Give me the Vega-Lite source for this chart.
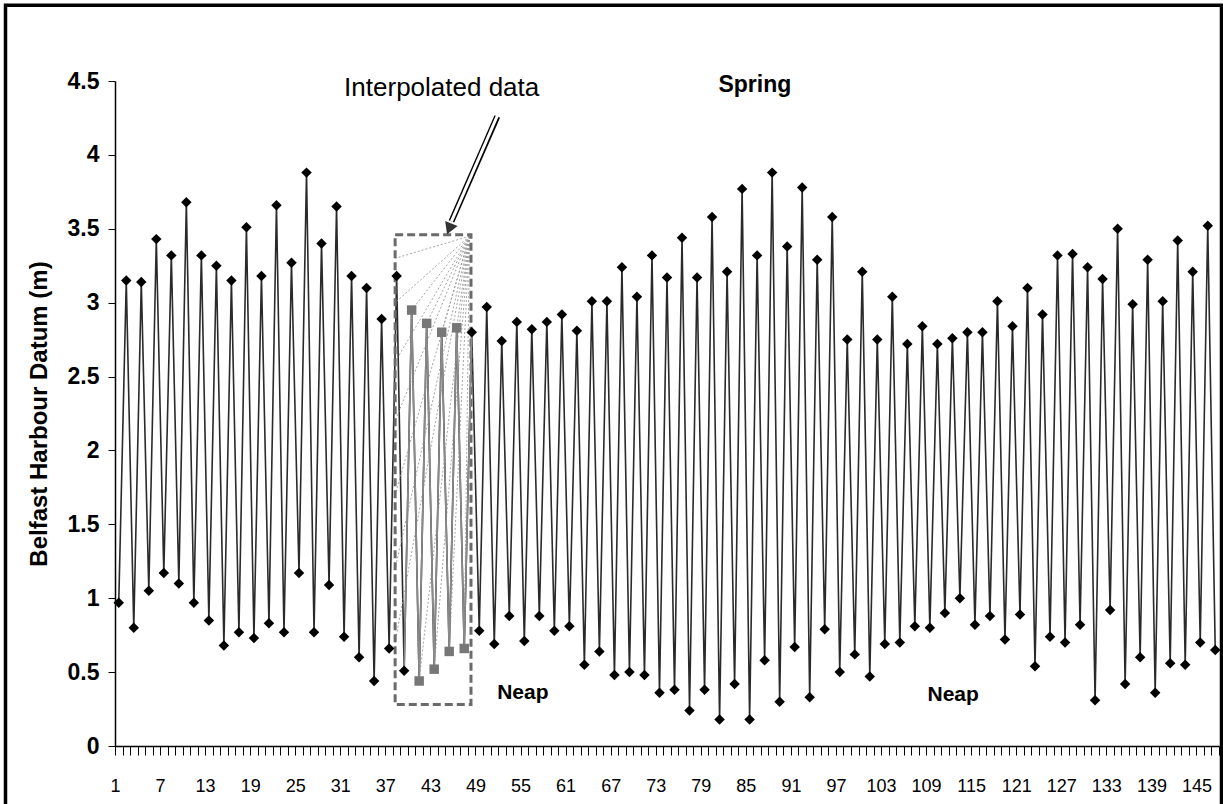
{
  "$schema": "https://vega.github.io/schema/vega-lite/v6.json",
  "width": 1104,
  "height": 665,
  "autosize": {"type": "none"},
  "padding": {"left": 115, "top": 81, "right": 4, "bottom": 58},
  "background": "white",
  "config": {
    "view": {"stroke": null},
    "font": "Liberation Sans",
    "axis": {"grid": false, "domainColor": "black", "tickColor": "black", "labelColor": "black", "titleColor": "black"}
  },
  "datasets": {
    "tide": [
      {"t":1,"h":0.97,"kind":"m"},{"t":2,"h":3.15,"kind":"m"},{"t":3,"h":0.80,"kind":"m"},{"t":4,"h":3.14,"kind":"m"},
      {"t":5,"h":1.05,"kind":"m"},{"t":6,"h":3.43,"kind":"m"},{"t":7,"h":1.17,"kind":"m"},{"t":8,"h":3.32,"kind":"m"},
      {"t":9,"h":1.10,"kind":"m"},{"t":10,"h":3.68,"kind":"m"},{"t":11,"h":0.97,"kind":"m"},{"t":12,"h":3.32,"kind":"m"},
      {"t":13,"h":0.85,"kind":"m"},{"t":14,"h":3.25,"kind":"m"},{"t":15,"h":0.68,"kind":"m"},{"t":16,"h":3.15,"kind":"m"},
      {"t":17,"h":0.77,"kind":"m"},{"t":18,"h":3.51,"kind":"m"},{"t":19,"h":0.73,"kind":"m"},{"t":20,"h":3.18,"kind":"m"},
      {"t":21,"h":0.83,"kind":"m"},{"t":22,"h":3.66,"kind":"m"},{"t":23,"h":0.77,"kind":"m"},{"t":24,"h":3.27,"kind":"m"},
      {"t":25,"h":1.17,"kind":"m"},{"t":26,"h":3.88,"kind":"m"},{"t":27,"h":0.77,"kind":"m"},{"t":28,"h":3.40,"kind":"m"},
      {"t":29,"h":1.09,"kind":"m"},{"t":30,"h":3.65,"kind":"m"},{"t":31,"h":0.74,"kind":"m"},{"t":32,"h":3.18,"kind":"m"},
      {"t":33,"h":0.60,"kind":"m"},{"t":34,"h":3.10,"kind":"m"},{"t":35,"h":0.44,"kind":"m"},{"t":36,"h":2.89,"kind":"m"},
      {"t":37,"h":0.66,"kind":"m"},{"t":38,"h":3.18,"kind":"m"},{"t":39,"h":0.51,"kind":"m"},{"t":40,"h":2.95,"kind":"i"},
      {"t":41,"h":0.44,"kind":"i"},{"t":42,"h":2.86,"kind":"i"},{"t":43,"h":0.52,"kind":"i"},{"t":44,"h":2.80,"kind":"i"},
      {"t":45,"h":0.64,"kind":"i"},{"t":46,"h":2.83,"kind":"i"},{"t":47,"h":0.66,"kind":"i"},{"t":48,"h":2.80,"kind":"m"},
      {"t":49,"h":0.78,"kind":"m"},{"t":50,"h":2.97,"kind":"m"},{"t":51,"h":0.69,"kind":"m"},{"t":52,"h":2.74,"kind":"m"},
      {"t":53,"h":0.88,"kind":"m"},{"t":54,"h":2.87,"kind":"m"},{"t":55,"h":0.71,"kind":"m"},{"t":56,"h":2.82,"kind":"m"},
      {"t":57,"h":0.88,"kind":"m"},{"t":58,"h":2.87,"kind":"m"},{"t":59,"h":0.78,"kind":"m"},{"t":60,"h":2.92,"kind":"m"},
      {"t":61,"h":0.81,"kind":"m"},{"t":62,"h":2.81,"kind":"m"},{"t":63,"h":0.55,"kind":"m"},{"t":64,"h":3.01,"kind":"m"},
      {"t":65,"h":0.64,"kind":"m"},{"t":66,"h":3.01,"kind":"m"},{"t":67,"h":0.48,"kind":"m"},{"t":68,"h":3.24,"kind":"m"},
      {"t":69,"h":0.50,"kind":"m"},{"t":70,"h":3.04,"kind":"m"},{"t":71,"h":0.48,"kind":"m"},{"t":72,"h":3.32,"kind":"m"},
      {"t":73,"h":0.36,"kind":"m"},{"t":74,"h":3.17,"kind":"m"},{"t":75,"h":0.38,"kind":"m"},{"t":76,"h":3.44,"kind":"m"},
      {"t":77,"h":0.24,"kind":"m"},{"t":78,"h":3.17,"kind":"m"},{"t":79,"h":0.38,"kind":"m"},{"t":80,"h":3.58,"kind":"m"},
      {"t":81,"h":0.18,"kind":"m"},{"t":82,"h":3.21,"kind":"m"},{"t":83,"h":0.42,"kind":"m"},{"t":84,"h":3.77,"kind":"m"},
      {"t":85,"h":0.18,"kind":"m"},{"t":86,"h":3.32,"kind":"m"},{"t":87,"h":0.58,"kind":"m"},{"t":88,"h":3.88,"kind":"m"},
      {"t":89,"h":0.30,"kind":"m"},{"t":90,"h":3.38,"kind":"m"},{"t":91,"h":0.67,"kind":"m"},{"t":92,"h":3.78,"kind":"m"},
      {"t":93,"h":0.33,"kind":"m"},{"t":94,"h":3.29,"kind":"m"},{"t":95,"h":0.79,"kind":"m"},{"t":96,"h":3.58,"kind":"m"},
      {"t":97,"h":0.50,"kind":"m"},{"t":98,"h":2.75,"kind":"m"},{"t":99,"h":0.62,"kind":"m"},{"t":100,"h":3.21,"kind":"m"},
      {"t":101,"h":0.47,"kind":"m"},{"t":102,"h":2.75,"kind":"m"},{"t":103,"h":0.69,"kind":"m"},{"t":104,"h":3.04,"kind":"m"},
      {"t":105,"h":0.70,"kind":"m"},{"t":106,"h":2.72,"kind":"m"},{"t":107,"h":0.81,"kind":"m"},{"t":108,"h":2.84,"kind":"m"},
      {"t":109,"h":0.80,"kind":"m"},{"t":110,"h":2.72,"kind":"m"},{"t":111,"h":0.90,"kind":"m"},{"t":112,"h":2.76,"kind":"m"},
      {"t":113,"h":1.00,"kind":"m"},{"t":114,"h":2.80,"kind":"m"},{"t":115,"h":0.82,"kind":"m"},{"t":116,"h":2.80,"kind":"m"},
      {"t":117,"h":0.88,"kind":"m"},{"t":118,"h":3.01,"kind":"m"},{"t":119,"h":0.72,"kind":"m"},{"t":120,"h":2.84,"kind":"m"},
      {"t":121,"h":0.89,"kind":"m"},{"t":122,"h":3.10,"kind":"m"},{"t":123,"h":0.54,"kind":"m"},{"t":124,"h":2.92,"kind":"m"},
      {"t":125,"h":0.74,"kind":"m"},{"t":126,"h":3.32,"kind":"m"},{"t":127,"h":0.70,"kind":"m"},{"t":128,"h":3.33,"kind":"m"},
      {"t":129,"h":0.82,"kind":"m"},{"t":130,"h":3.24,"kind":"m"},{"t":131,"h":0.31,"kind":"m"},{"t":132,"h":3.16,"kind":"m"},
      {"t":133,"h":0.92,"kind":"m"},{"t":134,"h":3.50,"kind":"m"},{"t":135,"h":0.42,"kind":"m"},{"t":136,"h":2.99,"kind":"m"},
      {"t":137,"h":0.60,"kind":"m"},{"t":138,"h":3.29,"kind":"m"},{"t":139,"h":0.36,"kind":"m"},{"t":140,"h":3.01,"kind":"m"},
      {"t":141,"h":0.56,"kind":"m"},{"t":142,"h":3.42,"kind":"m"},{"t":143,"h":0.55,"kind":"m"},{"t":144,"h":3.21,"kind":"m"},
      {"t":145,"h":0.70,"kind":"m"},{"t":146,"h":3.52,"kind":"m"},{"t":147,"h":0.65,"kind":"m"}
    ]
  },
  "layer": [
    {
      "data": {"name": "tide"},
      "mark": {"type": "line", "color": "#2a2a2a", "strokeWidth": 1.6},
      "encoding": {
        "x": {
          "field": "t", "type": "quantitative",
          "scale": {"domain": [0.5, 147.5], "nice": false, "zero": false},
          "axis": {
            "values": [0.5,1.5,2.5,3.5,4.5,5.5,6.5,7.5,8.5,9.5,10.5,11.5,12.5,13.5,14.5,15.5,16.5,17.5,18.5,19.5,20.5,21.5,22.5,23.5,24.5,25.5,26.5,27.5,28.5,29.5,30.5,31.5,32.5,33.5,34.5,35.5,36.5,37.5,38.5,39.5,40.5,41.5,42.5,43.5,44.5,45.5,46.5,47.5,48.5,49.5,50.5,51.5,52.5,53.5,54.5,55.5,56.5,57.5,58.5,59.5,60.5,61.5,62.5,63.5,64.5,65.5,66.5,67.5,68.5,69.5,70.5,71.5,72.5,73.5,74.5,75.5,76.5,77.5,78.5,79.5,80.5,81.5,82.5,83.5,84.5,85.5,86.5,87.5,88.5,89.5,90.5,91.5,92.5,93.5,94.5,95.5,96.5,97.5,98.5,99.5,100.5,101.5,102.5,103.5,104.5,105.5,106.5,107.5,108.5,109.5,110.5,111.5,112.5,113.5,114.5,115.5,116.5,117.5,118.5,119.5,120.5,121.5,122.5,123.5,124.5,125.5,126.5,127.5,128.5,129.5,130.5,131.5,132.5,133.5,134.5,135.5,136.5,137.5,138.5,139.5,140.5,141.5,142.5,143.5,144.5,145.5,146.5,147.5],
            "tickCount": 400,
            "labelExpr": "(datum.value + 0.5 - 1) % 6 == 0 && datum.value < 147 ? format(datum.value + 0.5, 'd') : ''",
            "labelDx": 6,
            "labelOverlap": false,
            "labelFlush": false,
            "labelBound": false,
            "labelFontSize": 18,
            "labelPadding": 22,
            "tickSize": 9,
            "tickWidth": 1,
            "domainWidth": 1.5,
            "title": null
          }
        },
        "y": {
          "field": "h", "type": "quantitative",
          "scale": {"domain": [0, 4.5], "nice": false, "zero": false},
          "axis": {
            "values": [0, 0.5, 1, 1.5, 2, 2.5, 3, 3.5, 4, 4.5],
            "format": "~g",
            "labelFontSize": 23,
            "labelFontWeight": "bold",
            "labelPadding": 9,
            "tickSize": 7,
            "domainWidth": 1.5,
            "title": "Belfast Harbour Datum (m)",
            "titleFontSize": 24,
            "titleFontWeight": "bold",
            "titlePadding": 16
          }
        }
      }
    },
    {
      "data": {"values": [{"x1": -14.08, "x2": 147.83, "y1": 5.013, "y2": -0.6}]},
      "mark": {"type": "rect", "fillOpacity": 0, "stroke": "black", "strokeWidth": 3.5, "clip": false},
      "encoding": {
        "x": {"field": "x1", "type": "quantitative"},
        "x2": {"field": "x2"},
        "y": {"field": "y1", "type": "quantitative"},
        "y2": {"field": "y2"}
      }
    },
    {
      "data": {"values": [
        {"x1":47.7,"y1":3.45,"x2":37.8,"y2":3.3},{"x1":47.7,"y1":3.45,"x2":37.8,"y2":3.0},
        {"x1":47.7,"y1":3.45,"x2":37.8,"y2":2.6},{"x1":47.7,"y1":3.45,"x2":37.8,"y2":2.2},
        {"x1":47.7,"y1":3.45,"x2":37.8,"y2":1.7},{"x1":47.7,"y1":3.45,"x2":37.8,"y2":1.2},
        {"x1":47.7,"y1":3.45,"x2":37.8,"y2":0.7},
        {"x1":47.7,"y1":3.45,"x2":40,"y2":2.95},{"x1":47.7,"y1":3.45,"x2":41,"y2":0.44},
        {"x1":47.7,"y1":3.45,"x2":42,"y2":2.86},{"x1":47.7,"y1":3.45,"x2":43,"y2":0.52},
        {"x1":47.7,"y1":3.45,"x2":44,"y2":2.80},{"x1":47.7,"y1":3.45,"x2":45,"y2":0.64},
        {"x1":47.7,"y1":3.45,"x2":46,"y2":2.83},{"x1":47.7,"y1":3.45,"x2":47,"y2":0.66}
      ]},
      "mark": {"type": "rule", "stroke": "#9a9a9a", "strokeWidth": 0.9, "strokeDash": [2, 2]},
      "encoding": {
        "x": {"field": "x1", "type": "quantitative"},
        "y": {"field": "y1", "type": "quantitative"},
        "x2": {"field": "x2"},
        "y2": {"field": "y2"}
      }
    },
    {
      "data": {"values": [{"x1": 37.8, "x2": 47.9, "y1": 0.28, "y2": 3.46}]},
      "mark": {"type": "rect", "fillOpacity": 0, "stroke": "#6a6a6a", "strokeWidth": 3, "strokeDash": [8, 4]},
      "encoding": {
        "x": {"field": "x1", "type": "quantitative"},
        "x2": {"field": "x2"},
        "y": {"field": "y1", "type": "quantitative"},
        "y2": {"field": "y2"}
      }
    },
    {
      "data": {"name": "tide"},
      "transform": [{"filter": "datum.t >= 39 && datum.t <= 48"}],
      "mark": {"type": "line", "color": "#8a8a8a", "strokeWidth": 1.6},
      "encoding": {
        "x": {"field": "t", "type": "quantitative"},
        "y": {"field": "h", "type": "quantitative"}
      }
    },
    {
      "data": {"name": "tide"},
      "mark": {"type": "point", "filled": true, "opacity": 1, "strokeWidth": 1},
      "encoding": {
        "x": {"field": "t", "type": "quantitative"},
        "y": {"field": "h", "type": "quantitative"},
        "shape": {"field": "kind", "type": "nominal", "scale": {"domain": ["m", "i"], "range": ["diamond", "square"]}, "legend": null},
        "color": {"field": "kind", "type": "nominal", "scale": {"domain": ["m", "i"], "range": ["#000000", "#777777"]}, "legend": null},
        "size": {"field": "kind", "type": "nominal", "scale": {"domain": ["m", "i"], "range": [110, 90]}, "legend": null}
      }
    },
    {
      "data": {"values": [{"x1": 51.4, "y1": 4.26, "x2": 45.3, "y2": 3.55}]},
      "mark": {"type": "rule", "stroke": "black", "strokeWidth": 6},
      "encoding": {
        "x": {"field": "x1", "type": "quantitative"},
        "y": {"field": "y1", "type": "quantitative"},
        "x2": {"field": "x2"},
        "y2": {"field": "y2"}
      }
    },
    {
      "data": {"values": [{"x1": 51.45, "y1": 4.27, "x2": 45.3, "y2": 3.55}]},
      "mark": {"type": "rule", "stroke": "white", "strokeWidth": 3},
      "encoding": {
        "x": {"field": "x1", "type": "quantitative"},
        "y": {"field": "y1", "type": "quantitative"},
        "x2": {"field": "x2"},
        "y2": {"field": "y2"}
      }
    },
    {
      "data": {"values": [{"ax": 45.0, "ay": 3.50}]},
      "mark": {"type": "point", "shape": "triangle-up", "angle": 202, "filled": true, "color": "#333333", "size": 180, "opacity": 1},
      "encoding": {
        "x": {"field": "ax", "type": "quantitative"},
        "y": {"field": "ay", "type": "quantitative"}
      }
    },
    {
      "data": {"values": [{"lx": 44.0, "ly": 4.45, "txt": "Interpolated data"}]},
      "mark": {"type": "text", "color": "black", "align": "center", "baseline": "middle", "fontSize": 26},
      "encoding": {
        "x": {"field": "lx", "type": "quantitative"},
        "y": {"field": "ly", "type": "quantitative"},
        "text": {"field": "txt"}
      }
    },
    {
      "data": {"values": [
        {"lx": 85.7, "ly": 4.47, "txt": "Spring"}
      ]},
      "mark": {"type": "text", "color": "black", "align": "center", "baseline": "middle", "fontSize": 23, "fontWeight": "bold"},
      "encoding": {
        "x": {"field": "lx", "type": "quantitative"},
        "y": {"field": "ly", "type": "quantitative"},
        "text": {"field": "txt"}
      }
    },
    {
      "data": {"values": [
        {"lx": 54.8, "ly": 0.36, "txt": "Neap"},
        {"lx": 112.1, "ly": 0.345, "txt": "Neap"}
      ]},
      "mark": {"type": "text", "color": "black", "align": "center", "baseline": "middle", "fontSize": 21, "fontWeight": "bold"},
      "encoding": {
        "x": {"field": "lx", "type": "quantitative"},
        "y": {"field": "ly", "type": "quantitative"},
        "text": {"field": "txt"}
      }
    }
  ]
}
